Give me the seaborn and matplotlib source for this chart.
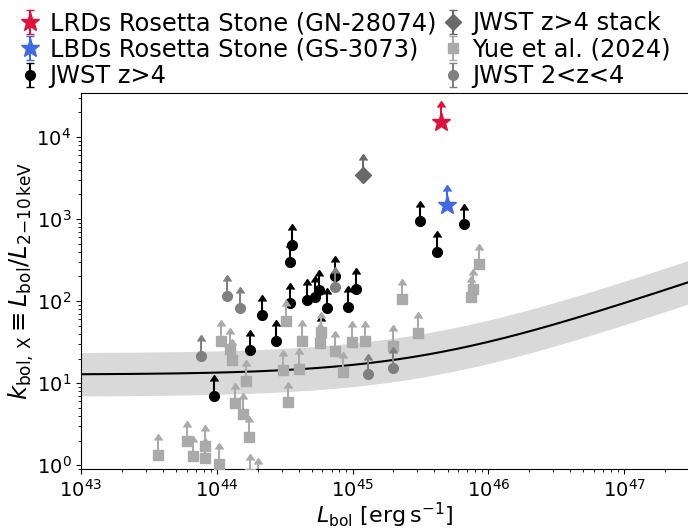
import numpy as np
import matplotlib
matplotlib.use("Agg")
import matplotlib.pyplot as plt
import seaborn as sns

# ---- data: bolometric luminosity [erg/s] and bolometric correction k_bol,X ----
# LRDs Rosetta Stone (GN-28074)
lrd_lbol = [4.44e45]
lrd_k = [15500]
# LBDs Rosetta Stone (GS-3073)
lbd_lbol = [4.98e45]
lbd_k = [1490]
# JWST z>4 (lower limits)
z4_lbol = [9.53e43, 1.77e44, 2.15e44, 2.75e44, 3.44e44, 3.44e44, 3.60e44, 4.58e44,
           5.31e44, 5.62e44, 5.85e44, 6.53e44, 7.48e44, 9.20e44, 1.06e45,
           3.13e45, 6.59e45, 4.17e45]
z4_k = [7.06, 25.2, 67.8, 33.0, 94.0, 301, 489, 104.5,
        112.7, 135.5, 38.3, 82.2, 201, 85.9, 141.9,
        938, 867, 401]
# JWST z>4 stack
stack_lbol = [1.19e45]
stack_k = [3500]
# Yue et al. (2024)
yue_lbol = [3.66e43, 6.07e43, 6.68e43, 8.22e43, 8.18e43, 1.03e44, 1.08e44, 1.26e44,
            1.29e44, 1.63e44, 1.37e44, 1.57e44, 1.73e44, 1.77e44, 2.01e44, 3.21e44,
            3.05e44, 3.36e44, 4.03e44, 4.24e44, 5.85e44, 5.78e44, 7.47e44, 8.55e44,
            9.84e44, 1.23e45, 2.00e45, 2.33e45, 3.01e45, 7.45e45, 7.66e45, 8.57e45]
yue_k = [1.35, 1.97, 1.28, 1.74, 1.22, 1.05, 32.8, 26.2,
         19.4, 10.7, 5.69, 4.26, 2.24, 0.78, 0.70, 57.5,
         14.4, 5.90, 15.0, 32.8, 41.7, 30.6, 24.6, 13.7,
         31.9, 32.6, 28.6, 105, 41.3, 113, 139, 281]
# JWST 2<z<4
lowz_lbol = [7.60e43, 1.18e44, 1.47e44, 7.48e44, 1.30e45, 2.00e45]
lowz_k = [21.7, 116, 83.4, 149, 12.8, 15.4]

# Duras et al. (2020) type-1 AGN relation: k = a * [1 + (log(L/Lsun)/b)^c]
duras_a, duras_b, duras_c = 12.76, 12.15, 18.78
duras_scatter_dex = 0.265
L_sun = 3.828e33

# ---- style ----
sns.set_style("ticks", rc={"axes.edgecolor": "black", "text.color": "black",
                           "xtick.color": "black", "ytick.color": "black",
                           "axes.labelcolor": "black"})
plt.rcParams["font.family"] = ["DejaVu Sans"]
plt.rcParams["mathtext.fontset"] = "dejavusans"
plt.rcParams["xtick.labelsize"] = 14
plt.rcParams["ytick.labelsize"] = 14
plt.rcParams["xtick.major.size"] = 3.5
plt.rcParams["ytick.major.size"] = 3.5
plt.rcParams["xtick.minor.size"] = 2
plt.rcParams["ytick.minor.size"] = 2

fig = plt.figure(figsize=(6.88, 5.29), dpi=100)
ax = fig.add_axes([81 / 688, 60 / 529, 608 / 688, 376.5 / 529])
ax.set_xscale("log")
ax.set_yscale("log")

# model relation with its scatter
lgrid = np.logspace(43, np.log10(3e47), 300)
kmod = duras_a * (1 + (np.log10(lgrid / L_sun) / duras_b) ** duras_c)
ax.fill_between(lgrid, kmod * 10 ** (-duras_scatter_dex), kmod * 10 ** duras_scatter_dex,
                color="#d9d9d9", lw=0, zorder=1)
sns.lineplot(x=lgrid, y=kmod, color="black", lw=1.5, ax=ax, zorder=2, legend=False)


def limits(lbol, k, **kw):
    k = np.asarray(k, dtype=float)
    return ax.errorbar(lbol, k, yerr=0.5 * k, lolims=True, linestyle="none", **kw)


h_z4 = limits(z4_lbol, z4_k, fmt="o", color="black", ms=7, zorder=3, label="JWST z>4")
h_yue = limits(yue_lbol, yue_k, fmt="s", color="#aaaaaa", ms=6.5, zorder=4,
               label="Yue et al. (2024)")
h_lowz = limits(lowz_lbol, lowz_k, fmt="o", color="#808080", ms=7, zorder=5,
                label="JWST 2<z<4")
h_stack = limits(stack_lbol, stack_k, fmt="D", color="#696969", ms=8.5, zorder=6,
                 label="JWST z>4 stack")
h_lrd = limits(lrd_lbol, lrd_k, fmt="*", color="crimson", ms=14, zorder=7,
               label="LRDs Rosetta Stone (GN-28074)")
h_lbd = limits(lbd_lbol, lbd_k, fmt="*", color="royalblue", ms=14, zorder=7,
               label="LBDs Rosetta Stone (GS-3073)")

ax.set_xlim(1e43, 3e47)
ax.set_ylim(0.9, 3.5e4)
ax.spines["right"].set_visible(False)

ax.set_xlabel(r"$L_{\rm bol}\ [{\rm erg\,s^{-1}}]$", fontsize=16, labelpad=0)
ax.set_ylabel(r"$k_{\rm bol,\,X} \equiv L_{\rm bol}/L_{2\mathrm{-}10\,\rm keV}$",
              fontsize=17.5, labelpad=0)

handles = [h_lrd, h_lbd, h_z4, h_stack, h_yue, h_lowz]
fig.legend(handles=handles, labels=[h.get_label() for h in handles],
           loc="upper left", bbox_to_anchor=(0.03, 0.983), ncol=2, frameon=False,
           fontsize=17.4, handlelength=0.6, handletextpad=0.5, columnspacing=0.38,
           labelspacing=0.1, borderpad=0.1, borderaxespad=0)

fig.savefig("out.png", dpi=100)
